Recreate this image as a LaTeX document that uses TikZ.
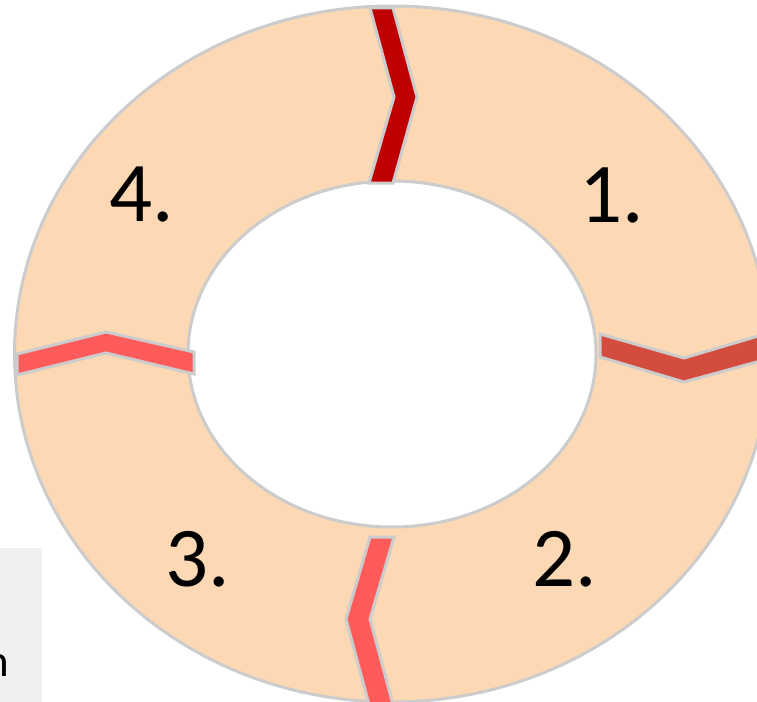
\documentclass[tikz,border=0pt]{standalone}
\usepackage{fontspec}
\setmainfont{Carlito}
\usepackage{tikz}
\usetikzlibrary{positioning}
\definecolor{cring}{HTML}{FCD8B4}
\definecolor{cedge}{HTML}{CCCCCC}
\definecolor{cdark}{HTML}{C00000}
\definecolor{cmid}{HTML}{D44C3E}
\definecolor{clight}{HTML}{FF5B5B}
\definecolor{cpanel}{HTML}{F0F0F0}
\tikzset{
  ring/.style={draw=cedge, line width=3pt, fill=cring, even odd rule},
  chev/.style={draw=cedge, line width=3pt, line join=miter},
  num/.style={inner sep=0pt, font=\fontsize{85}{90}\selectfont, text=black},
  panel/.style={fill=cpanel, draw=none},
  side/.style={inner sep=0pt, font=\fontsize{45}{50}\selectfont, text=black},
}

\begin{document}
\begin{tikzpicture}[x=1pt,y=1pt]
\useasboundingbox (0,0) rectangle (757,-701);
\clip (0,0) rectangle (757,-701);
% ---------------- side panel
\fill[panel] (-5,-548) rectangle (42,-706);
\node[side, anchor=base east] (tail) at (9,-676) {n};
% ---------------- ring
\draw[ring] (392,-354) ellipse [x radius=377.5, y radius=348]
            (392,-354) ellipse [x radius=204, y radius=173];
% ---------------- chevrons between the steps
\draw[chev, fill=cdark] (370,-8) -- (393,-8) -- (417,-97) -- (393,-183)
  -- (369,-183) -- (394,-97) -- cycle;
\draw[chev, fill=cmid] (600,-334) -- (684,-358) -- (775,-331) -- (775,-357)
  -- (684,-382) -- (600,-357) -- cycle;
\draw[chev, fill=clight] (370,-537) -- (394,-537) -- (370,-619) -- (395,-712)
  -- (371,-712) -- (346,-619) -- cycle;
\draw[chev, fill=clight] (17,-354) -- (106,-332) -- (194,-352) -- (194,-374)
  -- (106,-353) -- (17,-375) -- cycle;
% ---------------- step numbers
\node[num] (s1) at (612,-195) {1.};
\node[num] (s2) at (565,-559) {2.};
\node[num] (s3) at (198,-559) {3.};
\node[num] (s4) at (142,-195) {4.};
\end{tikzpicture}
\end{document}
